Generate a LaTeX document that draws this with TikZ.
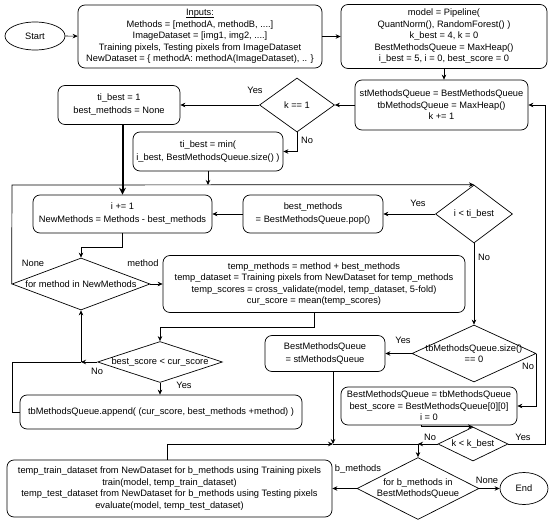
\documentclass[tikz,border=0pt]{standalone}
\usepackage{fontspec}
\setmainfont{Liberation Sans}
\newcommand{\inul}[1]{\setbox0\hbox{#1}\rlap{\rule[-1.6pt]{\wd0}{0.7pt}}\box0}
\usetikzlibrary{shapes.geometric,arrows.meta}
\begin{document}
\begin{tikzpicture}[x=1pt,y=-1pt,
  every node/.style={font=\fontsize{9.3}{11.5}\selectfont},
  tall/.style={font=\fontsize{9.3}{13}\selectfont},
  box/.style={draw, rounded corners=7pt, align=center, inner sep=0pt, line width=0.7pt},
  dia/.style={diamond, draw, inner sep=0pt, line width=0.7pt},
  oval/.style={ellipse, draw, inner sep=0pt, line width=0.7pt},
  txt/.style={align=center, inner sep=0pt},
  lbl/.style={inner sep=0pt},
  line/.style={draw, line width=0.7pt},
  arr/.style={line, -{Stealth[length=5pt,width=4.5pt]}},
]
\useasboundingbox (0,0) rectangle (550,522);

% nodes
\node[oval, minimum width=60, minimum height=28] (start) at (35,36) {Start};
\node[box, minimum width=244, minimum height=63] (inputs) at (200,36.5)
  {\inul{Inputs:}\\Methods = [methodA, methodB, ....]\\ImageDataset = [img1, img2, ....]\\Training pixels, Testing pixels from ImageDataset\\NewDataset = \{ methodA: methodA(ImageDataset), .. \}};
\node[box, minimum width=206, minimum height=64] (model) at (444,36.5)
  {model = Pipeline(\\QuantNorm(), RandomForest() )\\k\_best = 4, k = 0\\BestMethodsQueue = MaxHeap()\\i\_best = 5, i = 0, best\_score = 0};
\node[box, minimum width=173, minimum height=50] (st) at (441.5,105)
  {stMethodsQueue = BestMethodsQueue\\tbMethodsQueue = MaxHeap()\\k += 1};
\node[dia, minimum width=75, minimum height=54] (k1) at (297,105) {};
\node[txt] (k1t) at (k1) {k == 1};
\node[box, tall, minimum width=122, minimum height=39] (ti1) at (119,105)
  {ti\_best = 1\\best\_methods = None};
\node[box, tall, minimum width=150, minimum height=39] (tim) at (208,151.5)
  {ti\_best = min(\\i\_best, BestMethodsQueue.size() )};
\node[dia, minimum width=77, minimum height=58] (lt) at (474,214) {};
\node[txt] (ltt) at (lt) {i < ti\_best};
\node[box, tall, minimum width=140, minimum height=38] (bm) at (313,214)
  {best\_methods\\= BestMethodsQueue.pop()};
\node[box, tall, minimum width=179, minimum height=38] (inc) at (122.5,214)
  {i += 1\\NewMethods = Methods - best\_methods};
\node[dia, minimum width=138, minimum height=52] (fm) at (81,284) {};
\node[txt] (fmt) at (fm) {for method in NewMethods};
\node[box, minimum width=302, minimum height=57] (temp) at (314,284)
  {temp\_methods = method + best\_methods\\temp\_dataset = Training pixels from NewDataset for temp\_methods\\temp\_scores = cross\_validate(model, temp\_dataset, 5-fold)\\cur\_score = mean(temp\_scores)};
\node[dia, minimum width=125, minimum height=41] (bs) at (160,362) {};
\node[txt] (bst) at (bs) {best\_score < cur\_score};
\node[box, minimum width=282, minimum height=34] (app) at (161,412)
  {tbMethodsQueue.append( (cur\_score, best\_methods +method) )};
\node[dia, minimum width=124, minimum height=57] (sz) at (474,353.5) {};
\node[txt] (szt) at (sz) {tbMethodsQueue.size()\\== 0};
\node[box, tall, minimum width=120, minimum height=36] (bq) at (325,353.5)
  {BestMethodsQueue\\= stMethodsQueue};
\node[box, minimum width=176, minimum height=38] (bt) at (429,406)
  {BestMethodsQueue = tbMethodsQueue\\best\_score = BestMethodsQueue[0][0]\\i = 0};
\node[dia, minimum width=70, minimum height=34] (kk) at (473,444) {};
\node[txt] (kkt) at (kk) {k < k\_best};
\node[dia, minimum width=122, minimum height=62] (fb) at (418,488.5) {};
\node[txt] (fbt) at (fb) {for b\_methods in\\BestMethodsQueue};
\node[oval, minimum width=48, minimum height=32] (end) at (524,488.5) {End};
\node[box, minimum width=325, minimum height=57] (tt) at (169.5,488.5)
  {temp\_train\_dataset from NewDataset for b\_methods using Training pixels\\train(model, temp\_train\_dataset)\\temp\_test\_dataset from NewDataset for b\_methods using Testing pixels\\evaluate(model, temp\_test\_dataset)};

% helper coordinates
\coordinate (hl) at (12,185);
\coordinate (j1) at (81,362);
\coordinate (j2) at (418,444);
\coordinate (j3) at (333,444);
\coordinate (rr) at (545,444);

% connectors
\draw[arr] (start) -- (inputs);
\draw[arr] (inputs.east) -- (inputs.east -| model.west);
\draw[arr] (model.south) -- (model.south |- st.north);
\draw[arr] (st.west) -- (k1.east);
\draw[arr] (k1.west) -- (ti1.east);
\draw[arr] (k1.south) |- (tim.east);
\draw[arr] (tim.south) -- (tim.south |- hl);
\draw[arr] (fm.west) -- (hl) -- (lt.north);
\draw[line, line width=2pt, -{Stealth[length=7pt,width=7pt]}] (inc.north |- ti1.south) -- (inc.north);
\draw[arr] (lt.west) -- (bm.east);
\draw[arr] (bm.west) -- (inc.east);
\draw[arr] (inc.south) -- ++(0,14) -| (fm.north);
\draw[arr] (fm.east) -- (temp.west);
\draw[arr] (temp.south) -- ++(0,14) -| (bs.north);
\draw[arr] (bs.west) -- (j1);
\draw[arr] (j1) -- (fm.south);
\draw[line] (app.west) -- (hl |- app.west) -- (hl |- j1) -- (j1);
\draw[arr] (bs.south) -- (bs.south |- app.north);
\draw[arr] (lt.south) -- (sz.north);
\draw[arr] (sz.west) -- (bq.east);
\draw[arr] (sz.east) |- (bt.east);
\draw[arr] ([xshift=-8pt]bt.south) |- (kk.north);
\draw[arr] (kk.east) -- (rr) |- (st.east);
\draw[arr] (kk.west) -- (j2);
\draw[arr] (j2) -- (fb.north);
\draw[arr] ([xshift=8pt]bq.south) -- (j3);
\draw[arr] ([xshift=-2.5pt]tt.north) |- (j3);
\draw[line] (j3) -- (j2);
\draw[arr] (fb.east) -- (end.west);
\draw[arr] (fb.west) -- (tt.east);

% branch labels
\node[lbl] (l1) at (255,90) {Yes};
\node[lbl] (l2) at (307,140) {No};
\node[lbl] (l3) at (418,203) {Yes};
\node[lbl] (l4) at (484,257) {No};
\node[lbl] (l5) at (33,263) {None};
\node[lbl] (l6) at (143,263) {method};
\node[lbl] (l7) at (97,371) {No};
\node[lbl] (l8) at (184,385) {Yes};
\node[lbl] (l9) at (403,340) {Yes};
\node[lbl] (l10) at (528,366) {No};
\node[lbl] (l11) at (523,437) {Yes};
\node[lbl] (l12) at (430,437) {No};
\node[lbl] (l13) at (487,480) {None};
\node[lbl] (l14) at (358,469) {b\_methods};
\end{tikzpicture}
\end{document}
